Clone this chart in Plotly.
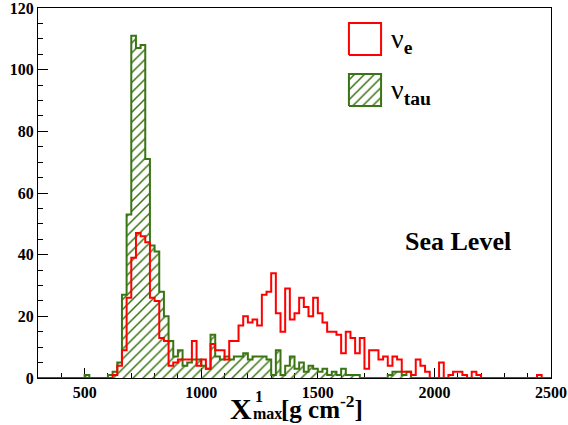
import numpy as np
import plotly.graph_objects as go

# ---------------- data ----------------
bin_low = 300          # g cm^-2
bin_width = 20         # g cm^-2
# counts per 20 g/cm2 bin, from 300 to 2500 (110 bins)
nu_e_counts = [
    0, 0, 0, 0, 0, 0, 0, 0, 0, 0,          # 300-499
    0, 0, 0, 0, 0, 0, 1, 4, 9, 26,          # 500-699
    39, 47, 46, 44, 26, 25, 13, 12, 4, 5,   # 700-899
    6, 6, 6, 12, 4, 6, 3, 11, 9, 9,         # 900-1099
    6, 12, 12, 17, 20, 18, 19, 17, 27, 28,  # 1100-1299
    34, 21, 15, 29, 19, 21, 26, 23, 20, 26, # 1300-1499
    21, 18, 15, 15, 14, 8, 15, 13, 8, 13,   # 1500-1699
    3, 9, 9, 6, 7, 4, 7, 6, 2, 2,           # 1700-1899
    1, 6, 4, 2, 0, 0, 5, 0, 1, 2,           # 1900-2099
    2, 1, 0, 2, 1, 0, 0, 0, 0, 0,           # 2100-2299
    0, 0, 0, 0, 0, 0, 0, 1, 0, 0,           # 2300-2499
]
nu_tau_counts = [
    0, 0, 0, 0, 0, 0, 0, 0, 0, 0,           # 300-499
    1, 0, 0, 0, 0, 1, 2, 5, 27, 53,         # 500-699
    111, 107, 108, 71, 43, 41, 28, 20, 12, 7,  # 700-899
    9, 4, 5, 6, 6, 4, 3, 14, 7, 6,          # 900-1099
    7, 6, 7, 7, 8, 6, 7, 7, 7, 6,           # 1100-1299
    1, 9, 1, 4, 7, 3, 5, 2, 4, 3,           # 1300-1499
    2, 3, 1, 2, 1, 3, 1, 1, 1, 0,           # 1500-1699
    0, 0, 0, 0, 0, 1, 2, 2, 1, 2,           # 1700-1899
    0, 0, 0, 0, 0, 0, 0, 0, 0, 0,           # 1900-2099
    0, 0, 0, 0, 0, 0, 0, 0, 0, 0,           # 2100-2299
    0, 0, 0, 0, 0, 0, 0, 0, 0, 0,           # 2300-2499
]
x_tickvals = [500, 1000, 1500, 2000, 2500]
y_tickvals = [0, 20, 40, 60, 80, 100, 120]
series_names = ["ν<sub><b>e</b></sub>", "ν<sub><b>tau</b></sub>"]
label_text = "Sea Level"

# ---------------- styling ----------------
RED = "#ff0000"
GREEN = "#3a7514"
SERIF = "Liberation Serif, Times New Roman, serif"

edges = bin_low + bin_width * np.arange(len(nu_e_counts) + 1)


def step_y(counts):
    return list(counts) + [counts[-1]]


hatch = dict(shape="/", fgcolor=GREEN, fgopacity=1,
             bgcolor="rgba(255,255,255,0)", size=7, solidity=0.22)

fig = go.Figure()

fig.add_trace(go.Scatter(
    x=edges, y=step_y(nu_tau_counts), mode="lines", line_shape="hv",
    line=dict(color=GREEN, width=2), fill="tozeroy",
    fillcolor="rgba(255,255,255,0)", fillpattern=hatch,
    showlegend=False, hoverinfo="skip"))

fig.add_trace(go.Scatter(
    x=edges, y=step_y(nu_e_counts), mode="lines", line_shape="hv",
    line=dict(color=RED, width=2),
    showlegend=False, hoverinfo="skip"))

# legend swatches in small inset axes
sw_x = [0, 1, 1, 0, 0]
sw_y = [0, 0, 1, 1, 0]
fig.add_trace(go.Scatter(x=sw_x, y=sw_y, xaxis="x2", yaxis="y2", mode="lines",
                         line=dict(color=RED, width=2), fill="toself",
                         fillcolor="white", showlegend=False, hoverinfo="skip"))
fig.add_trace(go.Scatter(x=sw_x, y=sw_y, xaxis="x3", yaxis="y3", mode="lines",
                         line=dict(color=GREEN, width=2), fill="toself",
                         fillcolor="rgba(255,255,255,0)", fillpattern=hatch,
                         showlegend=False, hoverinfo="skip"))

W, H = 568, 425
L, R, T, B = 38, 551, 8, 378


def px(x):
    return (x - L) / (R - L)


def py(y):
    return (B - y) / (B - T)


inset = dict(visible=False, range=[-0.06, 1.06], fixedrange=True)
axis_common = dict(ticks="inside", ticklen=10, tickwidth=1, tickcolor="black",
                   showline=True, linecolor="black", linewidth=1, mirror=True,
                   showgrid=False, zeroline=False, automargin=False,
                   ticklabeloverflow="allow",
                   tickfont=dict(family=SERIF, size=16, weight="bold"),
                   layer="below traces")
fig.update_layout(
    width=W, height=H,
    margin=dict(l=L, r=W - R, t=T, b=H - B, autoexpand=False),
    paper_bgcolor="white", plot_bgcolor="white",
    font=dict(family=SERIF, color="black"),
    xaxis=dict(range=[300, 2500], tickvals=x_tickvals,
               minor=dict(dtick=100, ticks="inside", ticklen=5,
                          tickcolor="black"), **axis_common),
    yaxis=dict(range=[0, 120], tickvals=y_tickvals,
               minor=dict(dtick=5, ticks="inside", ticklen=5,
                          tickcolor="black"), **axis_common),
    xaxis2=dict(domain=[px(347), px(383)], anchor="y2", **inset),
    yaxis2=dict(domain=[py(57), py(21)], anchor="x2", **inset),
    xaxis3=dict(domain=[px(347), px(383)], anchor="y3", **inset),
    yaxis3=dict(domain=[py(108), py(72)], anchor="x3", **inset),
)

ann = []
# legend labels
ann.append(dict(text=series_names[0], x=px(389), y=py(41),
                xanchor="left", yanchor="middle",
                font=dict(family=SERIF, size=28)))
ann.append(dict(text=series_names[1], x=px(389), y=py(91),
                xanchor="left", yanchor="middle",
                font=dict(family=SERIF, size=28)))
# Sea Level label
ann.append(dict(text="<b>%s</b>" % label_text, x=px(403), y=py(241),
                xanchor="left", yanchor="middle",
                font=dict(family=SERIF, size=26)))
# axis title: X with stacked 1 / max
ann.append(dict(text="<b>X</b>", x=px(254), y=py(408), xanchor="right",
                yanchor="middle", font=dict(family=SERIF, size=30)))
ann.append(dict(text="<b>1</b>", x=px(253), y=py(397), xanchor="left",
                yanchor="middle", font=dict(family=SERIF, size=16)))
ann.append(dict(text="<b>max</b>", x=px(251), y=py(414), xanchor="left",
                yanchor="middle", font=dict(family=SERIF, size=16)))
ann.append(dict(text="<b>[g cm<sup>-2</sup>]</b>", x=px(279), y=py(407),
                xanchor="left", yanchor="middle",
                font=dict(family=SERIF, size=25)))
for a in ann:
    a.update(xref="paper", yref="paper", showarrow=False)
fig.update_layout(annotations=ann)

fig.write_html("out.html",
               config={"displayModeBar": False, "staticPlot": True},
               post_script="document.body.style.margin='0';"
                           "document.body.style.overflow='hidden';")
